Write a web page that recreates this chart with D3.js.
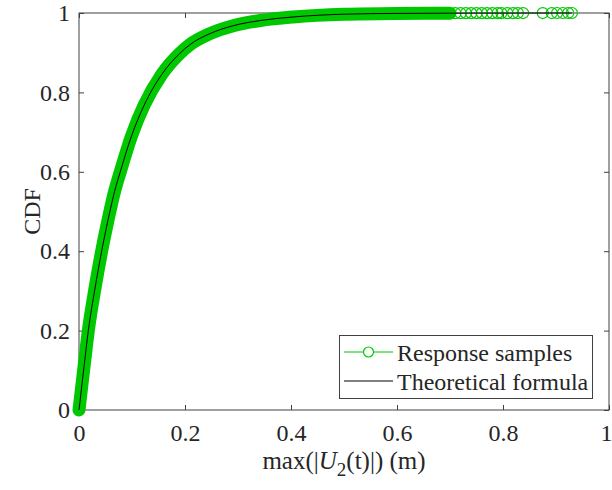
<!DOCTYPE html>
<html>
<head>
<meta charset="utf-8" />
<style>
  body { margin: 0; background: #fff; }
  text { font-family: "Liberation Serif", "Times New Roman", serif; fill: #262626; }
  .axis path, .axis line { stroke: #404040; }
</style>
<script src="https://cdnjs.cloudflare.com/ajax/libs/d3/7.8.5/d3.min.js"></script>
</head>
<body>
<div id="chart"></div>
<script>
// theoretical CDF
var theoX = [0, 0.01, 0.0176, 0.03, 0.042, 0.055, 0.067, 0.079, 0.099, 0.123, 0.156, 0.19, 0.209, 0.247, 0.291, 0.342, 0.404, 0.5, 0.6, 0.75, 0.93];
var theoF = [0, 0.115, 0.2, 0.305, 0.395, 0.48, 0.55, 0.605, 0.69, 0.768, 0.845, 0.898, 0.92, 0.948, 0.968, 0.981, 0.99, 0.997, 0.999, 0.9998, 1];

// response samples: dense part (markers overlap into a band)
var sampleX = [0, 0.01, 0.0176, 0.03, 0.042, 0.055, 0.067, 0.079, 0.099, 0.123, 0.156, 0.19, 0.209, 0.247, 0.291, 0.342, 0.404, 0.5, 0.6, 0.7];
var sampleF = [0, 0.115, 0.2, 0.305, 0.395, 0.48, 0.55, 0.605, 0.69, 0.768, 0.845, 0.898, 0.92, 0.948, 0.968, 0.981, 0.99, 0.997, 0.999, 0.9995];
// sparse tail samples
var tailX = [0.71, 0.72, 0.73, 0.74, 0.75, 0.76, 0.77, 0.78, 0.79, 0.797, 0.808, 0.819, 0.828, 0.838, 0.875, 0.892, 0.902, 0.913, 0.923, 0.93];
var tailF = [0.9995, 0.9995, 0.9996, 0.9996, 0.9996, 0.9997, 0.9997, 0.9997, 0.9998, 0.9998, 0.9998, 0.9998, 0.9999, 0.9999, 0.9999, 0.9999, 1, 1, 1, 1];

var xTicks = [0, 0.2, 0.4, 0.6, 0.8, 1];
var xTickLabels = ["0", "0.2", "0.4", "0.6", "0.8", "1"];
var yTicks = [0, 0.2, 0.4, 0.6, 0.8, 1];
var yTickLabels = ["0", "0.2", "0.4", "0.6", "0.8", "1"];

var w = 612, h = 490;
var mLeft = 79, mRight = 609, mTop = 13, mBottom = 410;

var svg = d3.select("#chart").append("svg")
  .attr("width", w)
  .attr("height", h);

var x = d3.scaleLinear().domain([0, 1]).range([mLeft, mRight]);
var y = d3.scaleLinear().domain([0, 1]).range([mBottom, mTop]);

// box
svg.append("rect")
  .attr("x", mLeft).attr("y", mTop)
  .attr("width", mRight - mLeft).attr("height", mBottom - mTop)
  .attr("fill", "none").attr("stroke", "#404040").attr("stroke-width", 1);

var xAxis = svg.append("g")
  .attr("class", "axis")
  .attr("transform", "translate(0," + mBottom + ")")
  .call(d3.axisBottom(x).tickValues(xTicks).tickSizeInner(-5).tickSizeOuter(0).tickPadding(14)
    .tickFormat(function (d, i) { return xTickLabels[i]; }));
xAxis.select(".domain").remove();
// last label sits at the window edge, nudge it in a little
xAxis.selectAll(".tick text").filter(function (d) { return d === 1; }).attr("dx", -3);

var xTop = svg.append("g")
  .attr("class", "axis")
  .attr("transform", "translate(0," + mTop + ")")
  .call(d3.axisTop(x).tickValues(xTicks).tickSizeInner(-5).tickSizeOuter(0).tickFormat(""));
xTop.select(".domain").remove();

var yAxis = svg.append("g")
  .attr("class", "axis")
  .attr("transform", "translate(" + mLeft + ",0)")
  .call(d3.axisLeft(y).tickValues(yTicks).tickSizeInner(-5).tickSizeOuter(0).tickPadding(9)
    .tickFormat(function (d, i) { return yTickLabels[i]; }));
yAxis.select(".domain").remove();

var yRight = svg.append("g")
  .attr("class", "axis")
  .attr("transform", "translate(" + mRight + ",0)")
  .call(d3.axisRight(y).tickValues(yTicks).tickSizeInner(-5).tickSizeOuter(0).tickFormat(""));
yRight.select(".domain").remove();

svg.selectAll(".tick text")
  .attr("fill", "#262626")
  .style("font-family", "'Liberation Serif', serif")
  .style("font-size", "24px");

// axis titles
var xt = svg.append("text")
  .attr("x", (mLeft + mRight) / 2)
  .attr("y", 469)
  .attr("text-anchor", "middle")
  .style("font-size", "25px");
xt.append("tspan").text("max(|");
xt.append("tspan").attr("font-style", "italic").text("U");
xt.append("tspan").attr("dy", 7).style("font-size", "19px").text("2");
xt.append("tspan").attr("dy", -7).text("(t)|) (m)");

svg.append("text")
  .attr("transform", "translate(40," + ((mTop + mBottom) / 2) + ") rotate(-90)")
  .attr("text-anchor", "middle")
  .style("font-size", "24px")
  .text("CDF");

var green = "#00c800";

// response samples: dense band
var band = sampleX.map(function (d, i) { return [d, sampleF[i]]; });
var line = d3.line().x(function (d) { return x(d[0]); }).y(function (d) { return y(d[1]); }).curve(d3.curveMonotoneX);

svg.append("path")
  .datum(band)
  .attr("d", line)
  .attr("fill", "none")
  .attr("stroke", green)
  .attr("stroke-width", 13)
  .attr("stroke-linecap", "round")
  .attr("stroke-linejoin", "round");

svg.selectAll(".tail")
  .data(tailX)
  .enter().append("circle")
  .attr("class", "tail")
  .attr("cx", function (d) { return x(d); })
  .attr("cy", function (d, i) { return y(tailF[i]); })
  .attr("r", 5.5)
  .attr("fill", "none")
  .attr("stroke", green)
  .attr("stroke-width", 1.2);

// theoretical formula
var theo = theoX.map(function (d, i) { return [d, theoF[i]]; });
svg.append("path")
  .datum(theo)
  .attr("d", line)
  .attr("fill", "none")
  .attr("stroke", "#000")
  .attr("stroke-width", 1);

// legend
var lg = svg.append("g").attr("id", "legend");
lg.append("rect")
  .attr("x", 339.5).attr("y", 335.5)
  .attr("width", 253).attr("height", 63)
  .attr("fill", "#fff").attr("stroke", "#404040").attr("stroke-width", 1);

lg.append("line")
  .attr("x1", 344).attr("x2", 393).attr("y1", 352).attr("y2", 352)
  .attr("stroke", green).attr("stroke-width", 1);
lg.append("circle")
  .attr("cx", 368.5).attr("cy", 352).attr("r", 5)
  .attr("fill", "#fff").attr("stroke", green).attr("stroke-width", 1.2);
lg.append("text")
  .attr("x", 397).attr("y", 361)
  .style("font-size", "24px")
  .text("Response samples");

lg.append("line")
  .attr("x1", 344).attr("x2", 393).attr("y1", 381).attr("y2", 381)
  .attr("stroke", "#000").attr("stroke-width", 1);
lg.append("text")
  .attr("x", 397).attr("y", 390)
  .style("font-size", "24px")
  .text("Theoretical formula");
</script>
</body>
</html>
